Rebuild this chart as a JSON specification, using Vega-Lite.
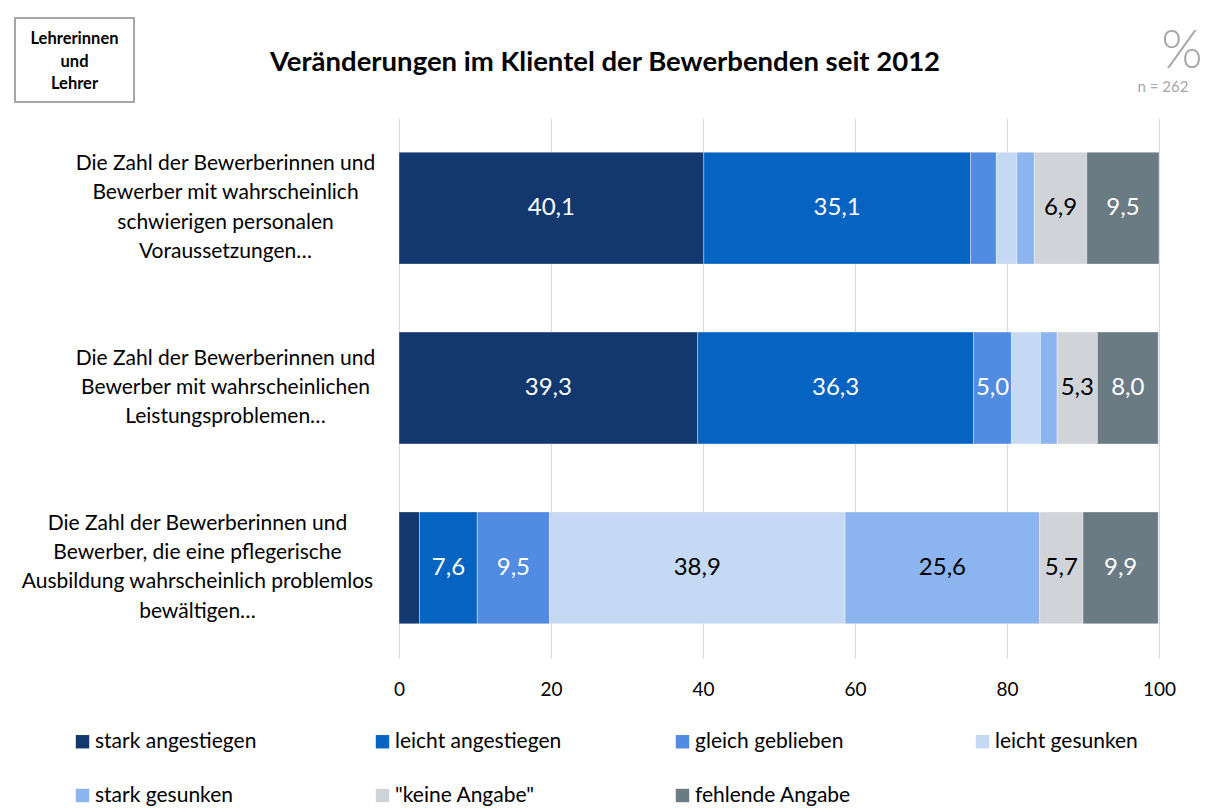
{
  "$schema": "https://vega.github.io/schema/vega-lite/v6.json",
  "padding": {"left": 14, "top": 17, "right": 0, "bottom": 0},
  "autosize": {"type": "pad"},
  "background": "white",
  "config": {
    "view": {"stroke": null},
    "font": "Lato",
    "locale": {"number": {"decimal": ",", "thousands": ".", "grouping": [3], "currency": ["", " €"]}}
  },
  "bounds": "flush",
  "spacing": 265,
  "hconcat": [
    {
      "width": 119, "height": 84,
      "view": {"stroke": "#a6a6a6", "strokeWidth": 2},
      "data": {"values": [{"t": "box"}]},
      "mark": {"type": "text", "font": "Lato", "fontSize": 16.5, "fontWeight": "bold", "color": "#000000", "lineHeight": 22.5, "baseline": "middle", "align": "center", "dy": -21},
      "encoding": {"text": {"value": ["Lehrerinnen", "und", "Lehrer"]}}
    },
    {
      "spacing": 16,
      "vconcat": [
        {
          "width": 760, "height": 84,
          "data": {"values": [{"t": "header"}]},
          "layer": [
            {
              "mark": {"type": "text", "font": "Lato", "fontSize": 27.5, "fontWeight": "bold", "color": "#000000", "baseline": "middle", "align": "center", "dx": -174, "dy": 3},
              "encoding": {"text": {"value": "Veränderungen im Klientel der Bewerbenden seit 2012"}}
            },
            {
              "mark": {"type": "text", "font": "Lato", "fontSize": 53, "fontWeight": 300, "color": "#a6a6a6", "baseline": "middle", "align": "center", "dx": 403, "dy": -8},
              "encoding": {"text": {"value": "%"}}
            },
            {
              "mark": {"type": "text", "font": "Lato", "fontSize": 15, "color": "#a6a6a6", "baseline": "middle", "align": "center", "dx": 384, "dy": 27},
              "encoding": {"text": {"value": "n = 262"}}
            }
          ]
        },
        {
          "width": 760,
          "height": 540,
          "data": {
            "values": [
              {"item": "Die Zahl der Bewerberinnen und|Bewerber mit wahrscheinlich|schwierigen personalen|Voraussetzungen…", "cat": "stark angestiegen", "k": 1, "value": 40.1},
              {"item": "Die Zahl der Bewerberinnen und|Bewerber mit wahrscheinlich|schwierigen personalen|Voraussetzungen…", "cat": "leicht angestiegen", "k": 2, "value": 35.1},
              {"item": "Die Zahl der Bewerberinnen und|Bewerber mit wahrscheinlich|schwierigen personalen|Voraussetzungen…", "cat": "gleich geblieben", "k": 3, "value": 3.4},
              {"item": "Die Zahl der Bewerberinnen und|Bewerber mit wahrscheinlich|schwierigen personalen|Voraussetzungen…", "cat": "leicht gesunken", "k": 4, "value": 2.7},
              {"item": "Die Zahl der Bewerberinnen und|Bewerber mit wahrscheinlich|schwierigen personalen|Voraussetzungen…", "cat": "stark gesunken", "k": 5, "value": 2.3},
              {"item": "Die Zahl der Bewerberinnen und|Bewerber mit wahrscheinlich|schwierigen personalen|Voraussetzungen…", "cat": "\"keine Angabe\"", "k": 6, "value": 6.9},
              {"item": "Die Zahl der Bewerberinnen und|Bewerber mit wahrscheinlich|schwierigen personalen|Voraussetzungen…", "cat": "fehlende Angabe", "k": 7, "value": 9.5},
              {"item": "Die Zahl der Bewerberinnen und|Bewerber mit wahrscheinlichen|Leistungsproblemen…", "cat": "stark angestiegen", "k": 1, "value": 39.3},
              {"item": "Die Zahl der Bewerberinnen und|Bewerber mit wahrscheinlichen|Leistungsproblemen…", "cat": "leicht angestiegen", "k": 2, "value": 36.3},
              {"item": "Die Zahl der Bewerberinnen und|Bewerber mit wahrscheinlichen|Leistungsproblemen…", "cat": "gleich geblieben", "k": 3, "value": 5.0},
              {"item": "Die Zahl der Bewerberinnen und|Bewerber mit wahrscheinlichen|Leistungsproblemen…", "cat": "leicht gesunken", "k": 4, "value": 3.8},
              {"item": "Die Zahl der Bewerberinnen und|Bewerber mit wahrscheinlichen|Leistungsproblemen…", "cat": "stark gesunken", "k": 5, "value": 2.2},
              {"item": "Die Zahl der Bewerberinnen und|Bewerber mit wahrscheinlichen|Leistungsproblemen…", "cat": "\"keine Angabe\"", "k": 6, "value": 5.3},
              {"item": "Die Zahl der Bewerberinnen und|Bewerber mit wahrscheinlichen|Leistungsproblemen…", "cat": "fehlende Angabe", "k": 7, "value": 8.0},
              {"item": "Die Zahl der Bewerberinnen und|Bewerber, die eine pflegerische|Ausbildung wahrscheinlich problemlos|bewältigen…", "cat": "stark angestiegen", "k": 1, "value": 2.7},
              {"item": "Die Zahl der Bewerberinnen und|Bewerber, die eine pflegerische|Ausbildung wahrscheinlich problemlos|bewältigen…", "cat": "leicht angestiegen", "k": 2, "value": 7.6},
              {"item": "Die Zahl der Bewerberinnen und|Bewerber, die eine pflegerische|Ausbildung wahrscheinlich problemlos|bewältigen…", "cat": "gleich geblieben", "k": 3, "value": 9.5},
              {"item": "Die Zahl der Bewerberinnen und|Bewerber, die eine pflegerische|Ausbildung wahrscheinlich problemlos|bewältigen…", "cat": "leicht gesunken", "k": 4, "value": 38.9},
              {"item": "Die Zahl der Bewerberinnen und|Bewerber, die eine pflegerische|Ausbildung wahrscheinlich problemlos|bewältigen…", "cat": "stark gesunken", "k": 5, "value": 25.6},
              {"item": "Die Zahl der Bewerberinnen und|Bewerber, die eine pflegerische|Ausbildung wahrscheinlich problemlos|bewältigen…", "cat": "\"keine Angabe\"", "k": 6, "value": 5.7},
              {"item": "Die Zahl der Bewerberinnen und|Bewerber, die eine pflegerische|Ausbildung wahrscheinlich problemlos|bewältigen…", "cat": "fehlende Angabe", "k": 7, "value": 9.9}
            ]
          },
          "transform": [
            {"stack": "value", "groupby": ["item"], "sort": [{"field": "k", "order": "ascending"}], "as": ["x0", "x1"]},
            {"calculate": "(datum.x0 + datum.x1) / 2", "as": "xm"}
          ],
          "encoding": {
            "y": {
              "field": "item", "type": "nominal", "sort": null,
              "scale": {"paddingInner": 0.378, "paddingOuter": 0.19},
              "axis": {
                "title": null, "domain": false, "ticks": false, "tickSize": 0, "grid": false,
                "labelExpr": "split(datum.label, '|')",
                "labelAlign": "center", "labelBaseline": "middle",
                "labelPadding": {"condition": {"test": "indexof(datum.value, 'problemlos') >= 0", "value": 202}, "value": 174},
                "labelOffset": {"condition": {"test": "indexof(datum.value, 'Leistungs') >= 0", "value": -29.3}, "value": -44},
                "labelLimit": 600, "labelFont": "Lato", "labelFontSize": 21, "labelLineHeight": 29.3, "labelColor": "#000000"
              }
            }
          },
          "layer": [
            {
              "mark": {"type": "bar", "stroke": "#ffffff", "strokeWidth": 0.5, "strokeOpacity": 0.7},
              "encoding": {
                "x": {
                  "field": "x0", "type": "quantitative",
                  "scale": {"domain": [0, 100], "nice": false},
                  "axis": {
                    "title": null, "domain": false, "ticks": false, "tickSize": 0, "grid": true, "gridColor": "#d9d9d9", "gridWidth": 1,
                    "values": [0, 20, 40, 60, 80, 100], "labelPadding": 22, "labelFont": "Lato", "labelFontSize": 19, "labelColor": "#000000", "labelFlush": false
                  }
                },
                "x2": {"field": "x1"},
                "color": {
                  "field": "cat", "type": "nominal",
                  "scale": {
                    "domain": ["stark angestiegen", "leicht angestiegen", "gleich geblieben", "leicht gesunken", "stark gesunken", "\"keine Angabe\"", "fehlende Angabe"],
                    "range": ["#12386f", "#0563c1", "#518be2", "#c5d9f4", "#8cb4ee", "#d0d4d8", "#6b7b84"]
                  },
                  "legend": {
                    "orient": "none", "legendX": 57, "legendY": 713, "direction": "horizontal", "columns": 4,
                    "title": null, "symbolType": "square", "symbolSize": 180, "symbolStrokeWidth": 0,
                    "labelFont": "Lato", "labelFontSize": 21, "labelColor": "#000000", "labelOffset": 2, "labelLimit": 300,
                    "columnPadding": 110, "rowPadding": 32, "gridAlign": "all"
                  }
                }
              }
            },
            {
              "transform": [{"filter": "datum.value >= 5"}],
              "mark": {"type": "text", "font": "Lato", "fontSize": 24, "baseline": "middle", "align": "center"},
              "encoding": {
                "x": {"field": "xm", "type": "quantitative"},
                "text": {"field": "value", "type": "quantitative", "format": ".1f"},
                "color": {"condition": {"test": "datum.k >= 4 && datum.k <= 6", "value": "#000000"}, "value": "#ffffff"}
              }
            }
          ]
        }
      ]
    }
  ]
}
